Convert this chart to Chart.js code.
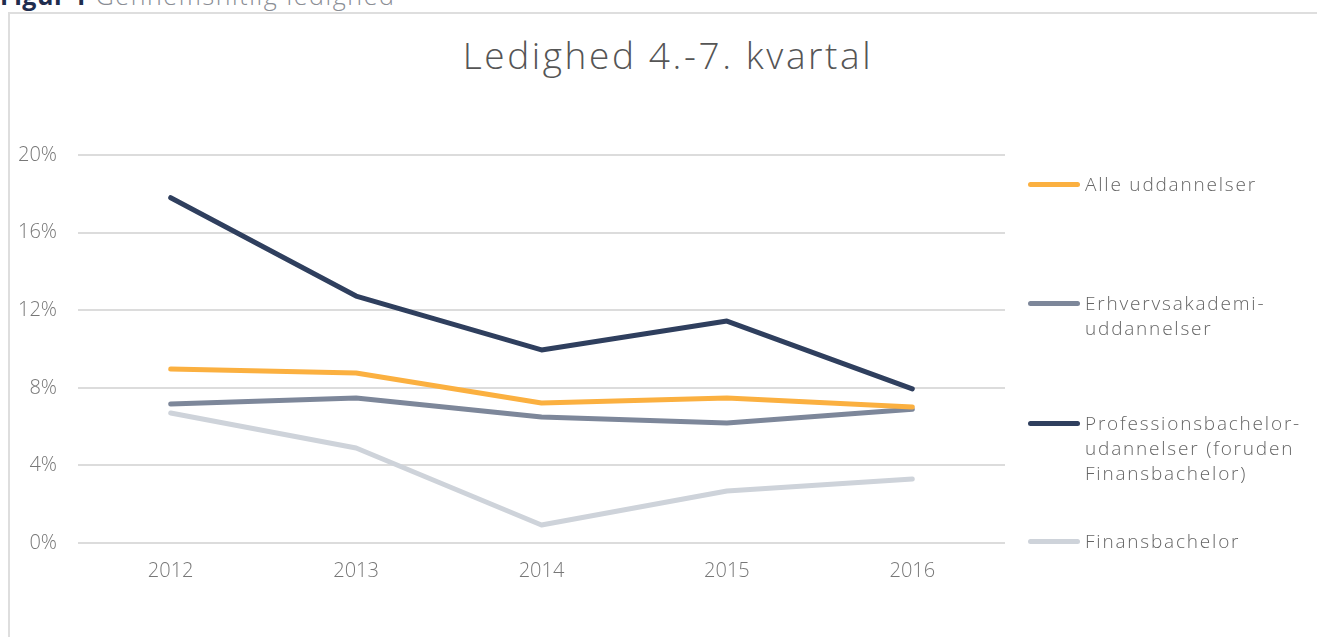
<!DOCTYPE html>
<html>
<head>
<meta charset="utf-8">
<script src="https://cdn.jsdelivr.net/npm/chart.js@4/dist/chart.umd.min.js"></script>
<style>
    html, body { margin: 0; padding: 0; background: #fff; overflow: hidden; }
    body { width: 1317px; height: 637px; position: relative; font-family: 'Open Sans', sans-serif; }
    .figure-caption {
        position: absolute; left: 0; top: -17px; font-size: 25px; line-height: 25px;
        color: #8a8d94; font-weight: 300; white-space: nowrap; letter-spacing: 1.6px;
    }
    .figure-caption b { color: #1f2d4e; font-weight: 700; letter-spacing: 0.5px; }
    .frame {
        position: absolute; left: 8px; top: 12px; width: 1400px; height: 700px;
        border-left: 2px solid #dedede; border-top: 2px solid #dedede;
    }
    .chart-title {
        position: absolute; left: 0; width: 1336px; top: 33px; text-align: center;
        font-size: 37px; line-height: 44px; color: #555; font-weight: 300; letter-spacing: 2.6px;
    }
    #chartWrap { position: absolute; left: 0; top: 0; width: 1317px; height: 637px; }
    .legend { position: absolute; left: 1028px; top: 0; }
    .legend-item { position: absolute; left: 0; white-space: nowrap; }
    .legend-swatch { position: absolute; left: 0; width: 52px; height: 5px; border-radius: 3px; }
    .legend-text {
        position: absolute; left: 57px; font-size: 19px; line-height: 25px;
        color: #666; font-weight: 300; letter-spacing: 1.8px;
    }
</style>
</head>
<body>
<div class="figure-caption"><b>Figur 1</b> Gennemsnitlig ledighed</div>
<div class="frame"></div>
<div class="chart-title">Ledighed 4.-7. kvartal</div>
<div id="chartWrap"><canvas id="ledighedChart"></canvas></div>
<div class="legend" id="legend"></div>

<script>
// Years on the x axis
const years = ['2012', '2013', '2014', '2015', '2016'];

// Unemployment share in percent
const alleUddannelser = [8.97, 8.76, 7.22, 7.47, 7.01];
const erhvervsakademi = [7.16, 7.47, 6.49, 6.19, 6.9];
const professionsbachelor = [17.8, 12.73, 9.95, 11.44, 7.94];
const finansbachelor = [6.7, 4.9, 0.93, 2.68, 3.3];

const seriesLabels = [
    ['Alle uddannelser'],
    ['Erhvervsakademi-', 'uddannelser'],
    ['Professionsbachelor-', 'udannelser (foruden', 'Finansbachelor)'],
    ['Finansbachelor']
];
const seriesColors = ['#fbb040', '#7d879a', '#2f3f5e', '#ced3da'];
const legendRows = [184, 303, 423, 541];

const yTicks = [0, 4, 8, 12, 16, 20];

document.addEventListener('DOMContentLoaded', function() {
    const seriesData = [alleUddannelser, erhvervsakademi, professionsbachelor, finansbachelor];

    const datasets = seriesData.map((values, i) => ({
        label: seriesLabels[i].join(' '),
        data: values,
        borderColor: seriesColors[i],
        backgroundColor: seriesColors[i],
        borderWidth: 5,
        borderCapStyle: 'round',
        borderJoinStyle: 'round',
        pointRadius: 0,
        pointHoverRadius: 0,
        tension: 0,
        fill: false
    }));

    const tickFont = { size: 20, family: "'Open Sans', sans-serif", weight: '300' };

    const ctx = document.getElementById('ledighedChart').getContext('2d');
    const chart = new Chart(ctx, {
        type: 'line',
        data: {
            labels: years,
            datasets: datasets
        },
        options: {
            responsive: true,
            maintainAspectRatio: false,
            animation: false,
            layout: {
                padding: { left: 0, right: 312, top: 155, bottom: 44 }
            },
            plugins: {
                legend: { display: false },
                title: { display: false },
                tooltip: { enabled: false }
            },
            scales: {
                x: {
                    offset: true,
                    grid: { display: false, drawTicks: false },
                    border: { display: false },
                    ticks: {
                        padding: 16,
                        color: '#777',
                        font: tickFont
                    },
                    afterFit: function(scale) { scale.height = 50; }
                },
                y: {
                    min: 0,
                    max: 20,
                    afterBuildTicks: function(scale) {
                        scale.ticks = yTicks.map(v => ({ value: v }));
                    },
                    grid: { color: '#dcdcdc', lineWidth: 2, drawTicks: false },
                    border: { display: false },
                    ticks: {
                        padding: 21,
                        color: '#777',
                        font: tickFont,
                        callback: function(value) { return value + '%'; }
                    },
                    afterFit: function(scale) { scale.width = 78; }
                }
            }
        }
    });

    // Build the legend on the right from the datasets
    const legend = document.getElementById('legend');
    chart.data.datasets.forEach((ds, i) => {
        const item = document.createElement('div');
        item.className = 'legend-item';
        item.style.top = (legendRows[i] - 12.5) + 'px';

        const swatch = document.createElement('div');
        swatch.className = 'legend-swatch';
        swatch.style.background = ds.borderColor;
        swatch.style.top = '10px';

        const text = document.createElement('div');
        text.className = 'legend-text';
        text.innerHTML = seriesLabels[i].join('<br>');

        item.appendChild(swatch);
        item.appendChild(text);
        legend.appendChild(item);
    });
});
</script>
</body>
</html>
